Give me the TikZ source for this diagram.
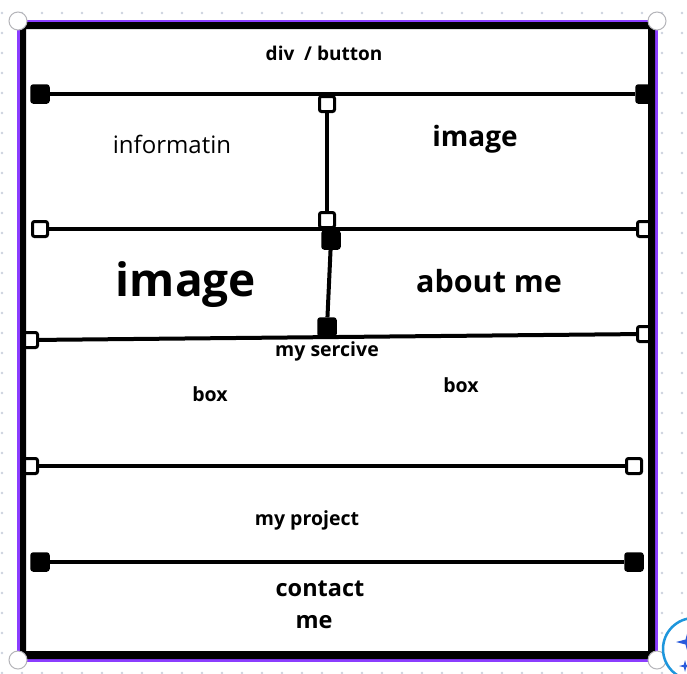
\documentclass[tikz,border=0pt]{standalone}
\usepackage{fontspec}
\setmainfont{Open Sans}
\definecolor{frameviolet}{RGB}{139,61,255}
\definecolor{dotgray}{RGB}{205,210,222}
\definecolor{handlegray}{RGB}{180,180,185}
\definecolor{assistblue}{RGB}{30,150,220}
\definecolor{sparkblue}{RGB}{40,90,220}
\tikzset{
  fillhandle/.style={draw=black, fill=black, line width=2.5pt, rounded corners=2pt, minimum size=17pt, inner sep=0pt},
  openhandle/.style={draw=black, fill=white, line width=3pt, rounded corners=2pt, minimum size=15pt, inner sep=0pt},
  guide/.style={line width=4pt, black},
  corner/.style={circle, draw=handlegray, fill=white, line width=1pt, minimum size=18pt, inner sep=0pt},
  lbl/.style={font=\bfseries, text=black, inner sep=0pt},
}
\begin{document}
\begin{tikzpicture}[x=1pt,y=-1pt]
\useasboundingbox (0,0) rectangle (687,673);
\fill[white] (0,0) rectangle (687,673);
% dotted canvas
\foreach \i in {0,...,34} {
  \foreach \j in {0,...,33} {
    \fill[dotgray] (2+20*\i,13+20*\j) circle (1.3);
  }
}
% selection outline and page
\fill[white] (18,21) rectangle (657,660);
\draw[frameviolet, line width=3pt] (18.5,21) rectangle (656.5,660.5);

% handles
\node[fillhandle] (a1) at (40,94) {};
\node[fillhandle] (a2) at (645,94) {};
\node[openhandle] (b1) at (40,229) {};
\node[openhandle] (b2) at (645,229) {};
\node[openhandle] (c1) at (30,340) {};
\node[openhandle] (c2) at (645,334) {};
\node[openhandle] (d1) at (30,466) {};
\node[openhandle] (d2) at (634,466) {};
\node[fillhandle] (e1) at (40,562) {};
\node[fillhandle] (e2) at (634,562) {};
\node[openhandle] (v1) at (327,104) {};
\node[openhandle] (v2) at (327,220) {};
\node[fillhandle] (w1) at (331,240) {};
\node[fillhandle] (w2) at (327,327) {};

% guide lines
\draw[guide] (a1) -- (a2);
\draw[guide] (b1) -- (b2);
\draw[guide] (c1) -- (c2);
\draw[guide] (d1) -- (d2);
\draw[guide] (e1) -- (e2);
\draw[guide] (v1) -- (v2);
\draw[guide] (w1) -- (w2);

% black page frame
\fill[black, even odd rule] (20,22) rectangle (655,659) (26,29) rectangle (648,651);

% texts
\node[lbl, font=\bfseries\fontsize{19}{22}\selectfont] (t1) at (324,53) {div\ \ / button};
\node[inner sep=0pt, font=\fontsize{24}{28}\selectfont] (t2) at (172,144) {informatin};
\node[lbl, font=\bfseries\fontsize{28}{33}\selectfont] (t3) at (475,139) {image};
\node[lbl, font=\bfseries\fontsize{46}{54}\selectfont] (t4) at (186,285) {image};
\node[lbl, font=\bfseries\fontsize{30.5}{36}\selectfont] (t5) at (489,281) {about me};
\node[lbl, font=\bfseries\fontsize{19.5}{23}\selectfont] (t6) at (327,351) {my sercive};
\node[lbl, font=\bfseries\fontsize{19.5}{23}\selectfont] (t7) at (210,394) {box};
\node[lbl, font=\bfseries\fontsize{19.5}{23}\selectfont] (t8) at (461,385) {box};
\node[lbl, font=\bfseries\fontsize{19.5}{23}\selectfont] (t9) at (307,520) {my project};
\node[lbl, font=\bfseries\fontsize{23.5}{28}\selectfont] (t10) at (320,589) {contact};
\node[lbl, font=\bfseries\fontsize{23.5}{28}\selectfont] (t11) at (314,622) {me};

% corner handles
\node[corner] (k1) at (18,21) {};
\node[corner] (k2) at (657,21) {};
\node[corner] (k3) at (18,660) {};
\node[corner] (k4) at (657,660) {};

% assistant button (partly outside)
\node[circle, draw=assistblue, fill=white, line width=2.5pt, minimum size=62pt, inner sep=0pt] (ab) at (694,649) {};
\fill[sparkblue] (688,630) -- (690.5,639.5) -- (700,642) -- (690.5,644.5) -- (688,654) -- (685.5,644.5) -- (676,642) -- (685.5,639.5) -- cycle;
\fill[sparkblue] (685,660) -- (686.2,664.8) -- (691,666) -- (686.2,667.2) -- (685,672) -- (683.8,667.2) -- (679,666) -- (683.8,664.8) -- cycle;
\end{tikzpicture}
\end{document}
